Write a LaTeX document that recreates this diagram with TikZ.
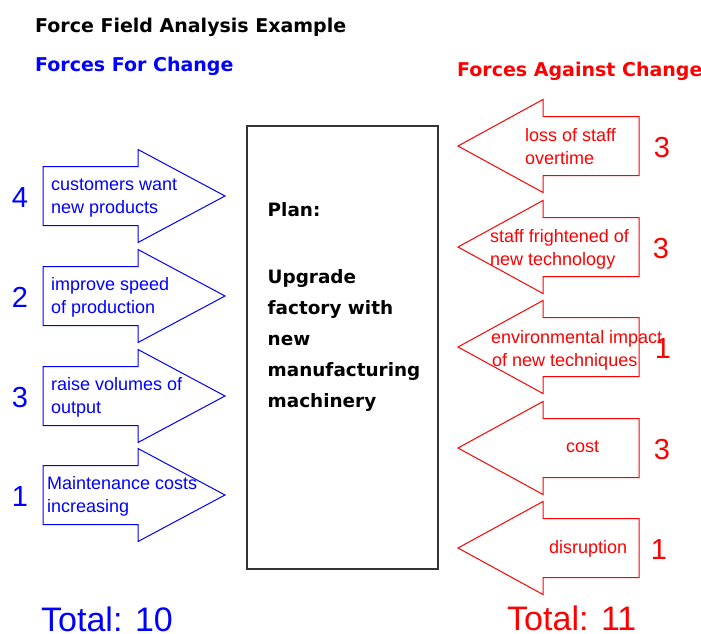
\documentclass[tikz,border=0pt]{standalone}
\usepackage{fontspec}
\setmainfont{Liberation Sans}
\newfontfamily\hdfont{DejaVu Sans}
\definecolor{forblue}{RGB}{0,0,255}
\definecolor{agred}{RGB}{255,0,0}
\tikzset{
  forarrow/.style={draw=forblue, line width=1pt, line join=miter},
  agarrow/.style={draw=agred, line width=1pt, line join=miter},
  arrtext/.style={font=\fontsize{18}{23}\selectfont, inner sep=0pt, anchor=base west},
  numtext/.style={font=\fontsize{29}{32}\selectfont, inner sep=0pt, anchor=base},
  hdtext/.style={font=\hdfont\bfseries\fontsize{19}{23}\selectfont, inner sep=0pt, anchor=base west},
  plantext/.style={font=\hdfont\bfseries\fontsize{18.4}{31}\selectfont, inner sep=0pt, anchor=base west},
  totaltext/.style={font=\fontsize{34}{38}\selectfont, inner sep=0pt, anchor=base west},
  planbox/.style={draw=black!80, line width=2pt, inner sep=0pt}
}
\begin{document}
\begin{tikzpicture}[x=1pt, y=-1pt]
\useasboundingbox (0,0) rectangle (701,634);
% headings
\node[hdtext] (title) at (35,33) {Force Field Analysis Example};
\node[hdtext, text=forblue] (forhead) at (35,71) {Forces For Change};
\node[hdtext, text=agred] (aghead) at (457,76) {Forces Against Change};
% central plan box
\node[planbox, minimum width=191pt, minimum height=443pt, anchor=north west] (plan) at (246,125) {};
\node[plantext] (plan0) at (267.5,216) {Plan:};
\foreach \t [count=\i] in {Upgrade, factory with, new, manufacturing, machinery}
  \node[plantext] (plan\i) at (267.5,{283+31*(\i-1)}) {\t};
% forces for change
\foreach \c/\la/\lb/\n/\xo [count=\i] in {196/customers want/new products/4/51,
    296/improve speed/of production/2/51,
    396/raise volumes of/output/3/51,
    495/Maintenance costs/increasing/1/47} {
  \draw[forarrow] (43,\c-29.5) -- (138,\c-29.5) -- (138,\c-46.5) -- (225,\c)
     -- (138,\c+46.5) -- (138,\c+29.5) -- (43,\c+29.5) -- cycle;
  \node[arrtext, text=forblue] (fa\i) at (\xo,\c-6) {\la};
  \node[arrtext, text=forblue] (fb\i) at (\xo,\c+17) {\lb};
  \node[numtext, text=forblue] (fn\i) at (20,\c+11.5) {\n};
}
% forces against change
\foreach \c/\n/\nx [count=\i] in {146/3/662, 247/3/661, 347/1/663, 448/3/662, 548/1/659} {
  \draw[agarrow] (639,\c-29.5) -- (543,\c-29.5) -- (543,\c-46.5) -- (458,\c)
     -- (543,\c+46.5) -- (543,\c+29.5) -- (639,\c+29.5) -- cycle;
  \node[numtext, text=agred] (an\i) at (\nx,\c+11) {\n};
}
\node[arrtext, text=agred] (aa1) at (525,141) {loss of staff};
\node[arrtext, text=agred] (ab1) at (525,164) {overtime};
\node[arrtext, text=agred] (aa2) at (490,242) {staff frightened of};
\node[arrtext, text=agred] (ab2) at (490,265) {new technology};
\node[arrtext, text=agred] (aa3) at (491,343) {environmental impact};
\node[arrtext, text=agred] (ab3) at (492,366) {of new techniques};
\node[arrtext, text=agred] (aa4) at (566,452) {cost};
\node[arrtext, text=agred] (aa5) at (549,553) {disruption};
% totals
\node[totaltext, text=forblue] (fortotal) at (41,631) {Total: 10};
\node[totaltext, text=agred] (agtotal) at (507,630) {Total: 11};
\end{tikzpicture}
\end{document}
